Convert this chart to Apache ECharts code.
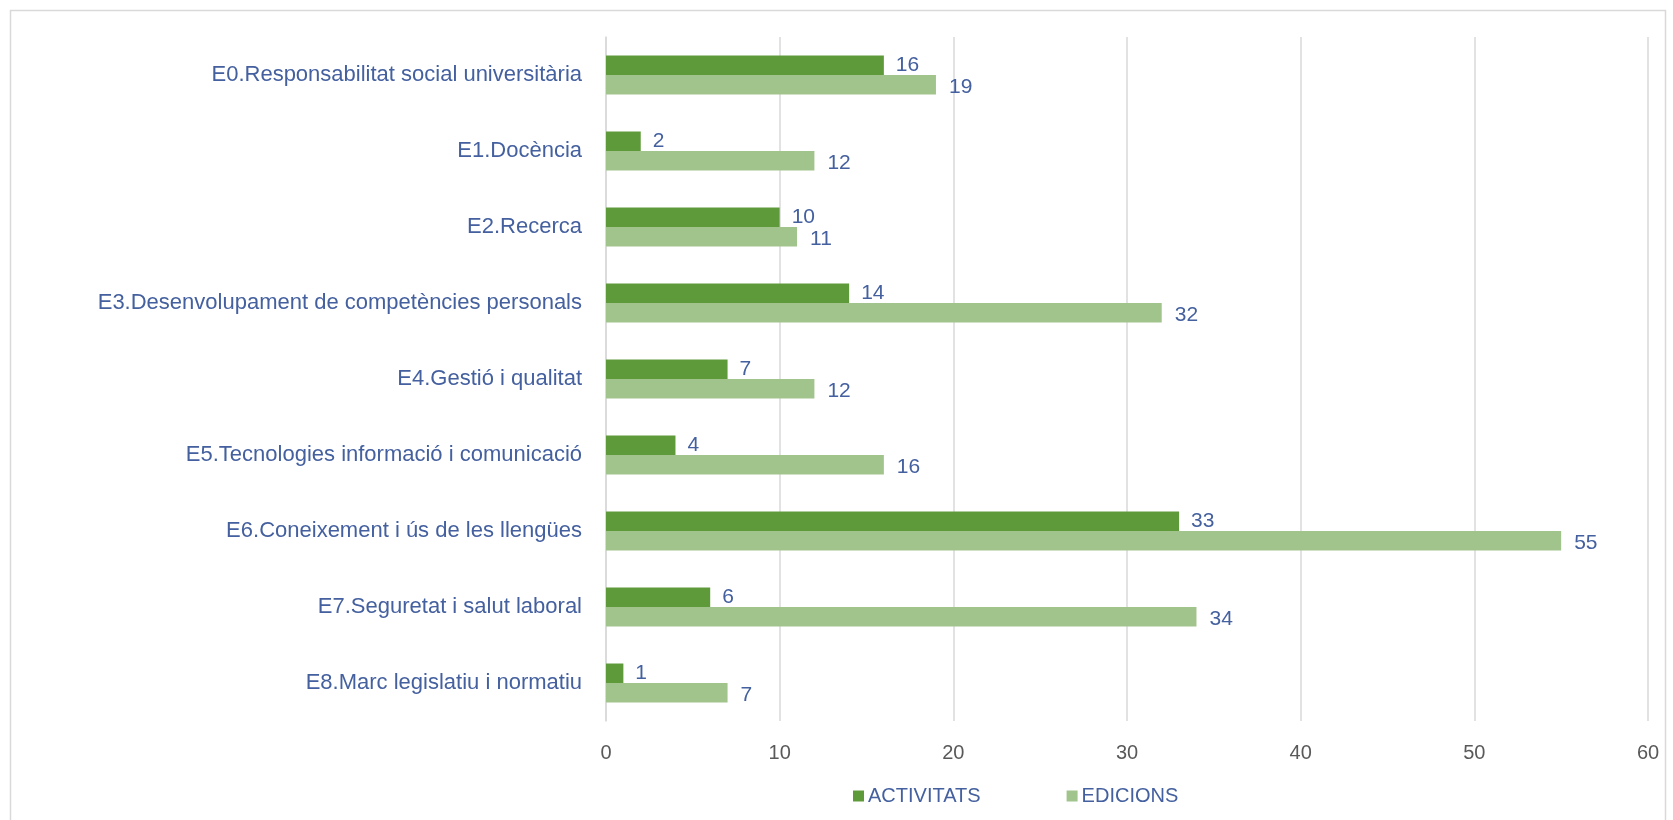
<!DOCTYPE html>
<html><head><meta charset="utf-8">
<script src="https://cdn.jsdelivr.net/npm/echarts@6/dist/echarts.min.js"></script>
<style>html,body{margin:0;padding:0;background:#fff}#c{width:1673px;height:820px}</style>
</head><body><div id="c"></div>
<script>
const categories = [
  "E0.Responsabilitat social universitària",
  "E1.Docència",
  "E2.Recerca",
  "E3.Desenvolupament de competències personals",
  "E4.Gestió i qualitat",
  "E5.Tecnologies informació i comunicació",
  "E6.Coneixement i ús de les llengües",
  "E7.Seguretat i salut laboral",
  "E8.Marc legislatiu i normatiu"
];
const activitats = [16, 2, 10, 14, 7, 4, 33, 6, 1];
const edicions = [19, 12, 11, 32, 12, 16, 55, 34, 7];
const xTicks = [0, 10, 20, 30, 40, 50, 60];

const FONT = '"Liberation Sans", sans-serif';
const BLUE = '#44609F';
const chart = echarts.init(document.getElementById('c'));
chart.setOption({
  animation: false,
  textStyle: { fontFamily: FONT },
  graphic: [{
    type: 'rect', shape: { x: 10.5, y: 10.5, width: 1655, height: 820 },
    style: { fill: 'none', stroke: '#D9D9D9', lineWidth: 1.5 }, silent: true
  }],
  grid: { left: 606, right: 25, top: 37, bottom: 99, containLabel: false },
  legend: {
    bottom: 9, left: 848, itemWidth: 11, itemHeight: 11, itemGap: 86,
    icon: 'rect',
    textStyle: { color: BLUE, fontSize: 20, fontFamily: FONT, padding: [0, 0, 0, -1] },
    data: ['ACTIVITATS', 'EDICIONS']
  },
  xAxis: {
    type: 'value', min: xTicks[0], max: xTicks[xTicks.length - 1], interval: 10,
    axisLine: { show: false }, axisTick: { show: false },
    axisLabel: { color: '#595959', fontSize: 20, margin: 22, fontFamily: FONT },
    splitLine: { lineStyle: { color: '#D9D9D9', width: 1.5 } }
  },
  yAxis: {
    type: 'category', data: categories, inverse: true,
    axisLine: { lineStyle: { color: '#D9D9D9', width: 1.5 } },
    axisTick: { show: false },
    axisLabel: { color: BLUE, fontSize: 22, margin: 24, fontFamily: FONT }
  },
  series: [
    {
      name: 'ACTIVITATS', type: 'bar', data: activitats,
      itemStyle: { color: '#5F9A3A' }, barWidth: 19.5, barGap: '0%',
      label: { show: true, position: 'right', distance: 12, color: BLUE, fontSize: 21, fontFamily: FONT, offset: [0, 0] }
    },
    {
      name: 'EDICIONS', type: 'bar', data: edicions,
      itemStyle: { color: '#A1C48C' }, barWidth: 19.5,
      label: { show: true, position: 'right', distance: 13, color: BLUE, fontSize: 21, fontFamily: FONT, offset: [0, 2] }
    }
  ]
});
</script></body></html>
